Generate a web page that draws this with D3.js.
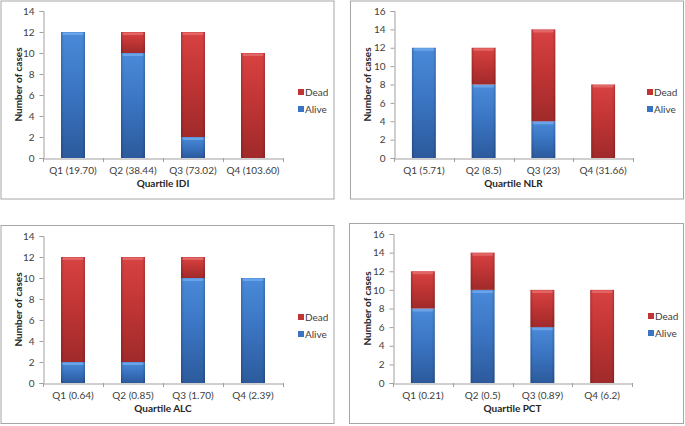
<!DOCTYPE html>
<html><head><meta charset="utf-8">
<script src="https://cdn.jsdelivr.net/npm/d3@7"></script>
<style>
html,body{margin:0;padding:0;background:#fff;}
svg{display:block;font-family:Lato,"Open Sans",sans-serif;}
</style></head>
<body>
<svg id="c" width="685" height="426"></svg>
<script>
const categoriesIDI = ["Q1 (19.70)", "Q2 (38.44)", "Q3 (73.02)", "Q4 (103.60)"];
const aliveIDI = [12, 10, 2, 0];
const deadIDI  = [0, 2, 10, 10];

const categoriesNLR = ["Q1 (5.71)", "Q2 (8.5)", "Q3 (23)", "Q4 (31.66)"];
const aliveNLR = [12, 8, 4, 0];
const deadNLR  = [0, 4, 10, 8];

const categoriesALC = ["Q1 (0.64)", "Q2 (0.85)", "Q3 (1.70)", "Q4 (2.39)"];
const aliveALC = [2, 2, 10, 10];
const deadALC  = [10, 10, 2, 0];

const categoriesPCT = ["Q1 (0.21)", "Q2 (0.5)", "Q3 (0.89)", "Q4 (6.2)"];
const alivePCT = [8, 10, 6, 0];
const deadPCT  = [4, 4, 4, 10];

const yTicks14 = [0, 2, 4, 6, 8, 10, 12, 14];
const yTicks16 = [0, 2, 4, 6, 8, 10, 12, 14, 16];
const seriesNames = ["Dead", "Alive"];
const yTitle = "Number of cases";

const svg = d3.select("#c");
const defs = svg.append("defs");
function grad(id, c1, c2, c3) {
  const g = defs.append("linearGradient").attr("id", id).attr("x1", 0).attr("y1", 0).attr("x2", 0).attr("y2", 1);
  g.append("stop").attr("offset", "0%").attr("stop-color", c1);
  g.append("stop").attr("offset", "45%").attr("stop-color", c2);
  g.append("stop").attr("offset", "100%").attr("stop-color", c3);
  const h = defs.append("linearGradient").attr("id", id + "H").attr("x1", 0).attr("y1", 0).attr("x2", 1).attr("y2", 0);
  h.append("stop").attr("offset", "0%").attr("stop-color", "#000").attr("stop-opacity", 0.18);
  h.append("stop").attr("offset", "12%").attr("stop-color", "#000").attr("stop-opacity", 0);
  h.append("stop").attr("offset", "88%").attr("stop-color", "#000").attr("stop-opacity", 0);
  h.append("stop").attr("offset", "100%").attr("stop-color", "#000").attr("stop-opacity", 0.18);
}
grad("gAlive", "#4a8ad8", "#3b76c4", "#2c5a9c");
grad("gDead", "#d84242", "#c23535", "#a02a2a");
const colors = {Alive: {fill: "url(#gAlive)", cap: "#6fa6ea", sw: "#3a74c4"}, Dead: {fill: "url(#gDead)", cap: "#e46a6a", sw: "#c23434"}};

const panels = [
  {cats: categoriesIDI, alive: aliveIDI, dead: deadIDI, title: "Quartile IDI", ticks: yTicks14, max: 14,
   box: [1, 1, 333, 198], x0: 43, x1: 283, yT: 11, yB: 158, legX: 298, legY: 92, yTitleX: 18},
  {cats: categoriesNLR, alive: aliveNLR, dead: deadNLR, title: "Quartile NLR", ticks: yTicks16, max: 16,
   box: [350.5, 1, 333, 198], x0: 394, x1: 633, yT: 11, yB: 158, legX: 647, legY: 92, yTitleX: 367},
  {cats: categoriesALC, alive: aliveALC, dead: deadALC, title: "Quartile ALC", ticks: yTicks14, max: 14,
   box: [1, 225.5, 333, 198], x0: 43, x1: 283, yT: 236, yB: 383, legX: 298, legY: 317, yTitleX: 18},
  {cats: categoriesPCT, alive: alivePCT, dead: deadPCT, title: "Quartile PCT", ticks: yTicks16, max: 16,
   box: [349.5, 223.5, 334, 200], x0: 393, x1: 632, yT: 234, yB: 383, legX: 648, legY: 316, yTitleX: 367}
];

panels.forEach(p => {
  const g = svg.append("g");
  g.append("rect").attr("x", p.box[0]).attr("y", p.box[1]).attr("width", p.box[2]).attr("height", p.box[3])
    .attr("fill", "#fff").attr("stroke", "#a6a6a6").attr("stroke-width", 1);

  const x = d3.scaleBand().domain(p.cats).range([p.x0, p.x1]).paddingInner(0.6).paddingOuter(0.3);
  const y = d3.scaleLinear().domain([0, p.max]).range([p.yB, p.yT]);

  // y axis
  const ya = g.append("g").attr("transform", `translate(${p.x0 + 0.5},0)`)
    .call(d3.axisLeft(y).tickValues(p.ticks).tickSize(4).tickPadding(5).tickFormat(d3.format("d")));
  ya.select(".domain").attr("stroke", "#a0a0a0");
  ya.selectAll(".tick line").attr("stroke", "#a0a0a0");
  ya.selectAll("text").attr("font-size", 10).attr("fill", "#404040").attr("font-family", "Lato, sans-serif");

  // x axis
  const xa = g.append("g").attr("transform", `translate(0,${p.yB + 0.5})`)
    .call(d3.axisBottom(x).tickSize(0).tickPadding(8));
  xa.select(".domain").attr("stroke", "#a0a0a0");
  xa.selectAll("text").attr("font-size", 10).attr("fill", "#404040").attr("font-family", "Lato, sans-serif");
  const step = x.step();
  const bounds = p.cats.map((c, i) => x(c) - (step - x.bandwidth()) / 2).concat([x(p.cats[p.cats.length - 1]) + x.bandwidth() + (step - x.bandwidth()) / 2]);
  g.selectAll(".xt").data(bounds).enter().append("line")
    .attr("x1", d => Math.round(d) + 0.5).attr("x2", d => Math.round(d) + 0.5)
    .attr("y1", p.yB).attr("y2", p.yB + 4).attr("stroke", "#a0a0a0");

  // stacked bars
  const rows = p.cats.map((c, i) => ({cat: c, Alive: p.alive[i], Dead: p.dead[i]}));
  const stack = d3.stack().keys(["Alive", "Dead"])(rows);
  stack.forEach(s => {
    const key = s.key;
    s.forEach(d => {
      if (d[1] - d[0] <= 0) return;
      const bx = x(d.data.cat), bw = x.bandwidth();
      const top = y(d[1]), h = y(d[0]) - y(d[1]);
      g.append("rect").attr("x", bx).attr("y", top).attr("width", bw).attr("height", h)
        .attr("fill", colors[key].fill);
      g.append("rect").attr("x", bx).attr("y", top).attr("width", bw).attr("height", h)
        .attr("fill", `url(#g${key}H)`);
      g.append("rect").attr("x", bx + 1.5).attr("y", top + 0.5).attr("width", bw - 3).attr("height", 2.5)
        .attr("rx", 1.2).attr("fill", colors[key].cap).attr("opacity", 0.9);
    });
  });

  // titles
  g.append("text").attr("x", (p.x0 + p.x1) / 2).attr("y", p.yB + 28.5).attr("text-anchor", "middle")
    .attr("font-size", 10).attr("font-weight", "bold").attr("fill", "#262626").text(p.title);
  g.append("text").attr("transform", `translate(${p.yTitleX + 3.5},${(p.yT + p.yB) / 2}) rotate(-90)`)
    .attr("text-anchor", "middle").attr("font-size", 10).attr("font-weight", "bold").attr("fill", "#262626").text(yTitle);

  // legend
  seriesNames.forEach((n, i) => {
    const ly = p.legY + i * 17;
    g.append("rect").attr("x", p.legX).attr("y", ly - 3).attr("width", 6).attr("height", 6).attr("fill", colors[n].sw);
    g.append("text").attr("x", p.legX + 7).attr("y", ly + 3.5).attr("font-size", 10).attr("fill", "#404040").text(n);
  });
});
</script>
</body></html>
